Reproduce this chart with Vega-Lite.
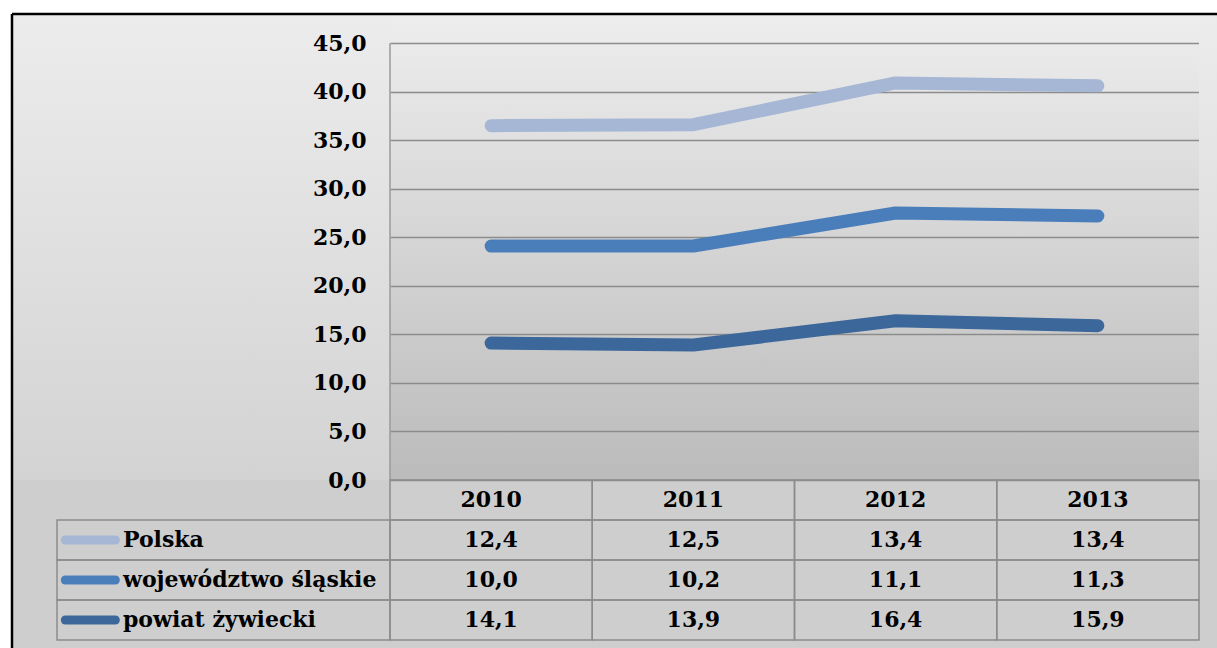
{
  "$schema": "https://vega.github.io/schema/vega-lite/v6.json",
  "padding": 0,
  "background": "#cecece",
  "columns": 4,
  "spacing": 0,
  "bounds": "flush",
  "config": {
    "view": {"stroke": null},
    "locale": {"number": {"decimal": ",", "thousands": " ", "grouping": [3], "currency": ["", ""]}},
    "text": {"font": "DejaVu Serif", "fontWeight": "bold", "fontSize": 22, "color": "#000"}
  },
  "datasets": {
    "main": [
      {"series": "Polska", "year": 2010, "value": 12.4, "rank": 3},
      {"series": "Polska", "year": 2011, "value": 12.5, "rank": 3},
      {"series": "Polska", "year": 2012, "value": 13.4, "rank": 3},
      {"series": "Polska", "year": 2013, "value": 13.4, "rank": 3},
      {"series": "województwo śląskie", "year": 2010, "value": 10.0, "rank": 2},
      {"series": "województwo śląskie", "year": 2011, "value": 10.2, "rank": 2},
      {"series": "województwo śląskie", "year": 2012, "value": 11.1, "rank": 2},
      {"series": "województwo śląskie", "year": 2013, "value": 11.3, "rank": 2},
      {"series": "powiat żywiecki", "year": 2010, "value": 14.1, "rank": 1},
      {"series": "powiat żywiecki", "year": 2011, "value": 13.9, "rank": 1},
      {"series": "powiat żywiecki", "year": 2012, "value": 16.4, "rank": 1},
      {"series": "powiat żywiecki", "year": 2013, "value": 15.9, "rank": 1}
    ],
    "series": [
      {"series": "Polska"},
      {"series": "województwo śląskie"},
      {"series": "powiat żywiecki"}
    ],
    "years": [
      {"year": 2010}, {"year": 2011}, {"year": 2012}, {"year": 2013}
    ],
    "one": [{}]
  },
  "concat": [
    {"width": 12, "height": 14, "view": {"fill": "white"}, "data": {"name": "one"},
     "mark": {"type": "rule", "strokeOpacity": 0},
     "encoding": {"y": {"datum": 1, "type": "quantitative", "scale": {"domain": [0, 1]}, "axis": null}}},
    {"width": 378, "height": 14, "view": {"fill": "white"}, "data": {"name": "one"},
     "mark": {"type": "rule", "strokeOpacity": 0},
     "encoding": {"y": {"datum": 1, "type": "quantitative", "scale": {"domain": [0, 1]}, "axis": null}}},
    {"width": 809, "height": 14, "view": {"fill": "white"}, "data": {"name": "one"},
     "mark": {"type": "rule", "strokeOpacity": 0},
     "encoding": {"y": {"datum": 1, "type": "quantitative", "scale": {"domain": [0, 1]}, "axis": null}}},
    {"width": 18, "height": 14, "view": {"fill": "white"}, "data": {"name": "one"},
     "mark": {"type": "rule", "strokeOpacity": 0},
     "encoding": {"y": {"datum": 1, "type": "quantitative", "scale": {"domain": [0, 1]}, "axis": null}}},

    {"width": 12, "height": 466, "view": {"fill": "white"}, "data": {"name": "one"},
     "mark": {"type": "rule", "strokeOpacity": 0},
     "encoding": {"y": {"datum": 1, "type": "quantitative", "scale": {"domain": [0, 1]}, "axis": null}}},
    {
      "width": 378, "height": 466,
      "view": {"fill": {"gradient": "linear", "x1": 0, "y1": 0, "x2": 0, "y2": 1, "stops": [{"offset": 0, "color": "#ececec"}, {"offset": 1, "color": "#d3d3d3"}]}},
      "data": {"name": "one"},
      "layer": [
        {"mark": {"type": "rule", "color": "#000", "strokeWidth": 2.5},
         "encoding": {"x": {"datum": 0, "type": "quantitative", "scale": {"domain": [0, 1]}, "axis": null}}},
        {"mark": {"type": "rule", "color": "#000", "strokeWidth": 2.5},
         "encoding": {"y": {"datum": 1, "type": "quantitative", "scale": {"domain": [0, 1]}, "axis": null}}}
      ]
    },
    {
      "width": 809, "height": 466,
      "view": {"fill": {"gradient": "linear", "x1": 0, "y1": 0, "x2": 0, "y2": 1, "stops": [{"offset": 0, "color": "#ededed"}, {"offset": 0.07, "color": "#eaeaea"}, {"offset": 1, "color": "#bbbbbb"}]}},
      "encoding": {
        "y": {"type": "quantitative",
              "scale": {"domain": [0, 48], "nice": false, "zero": true},
              "axis": {"values": [0, 5, 10, 15, 20, 25, 30, 35, 40, 45], "format": ".1f", "title": null,
                       "grid": true, "gridColor": "#8c8c8c", "gridWidth": 1.5, "domain": false, "ticks": false,
                       "labelFont": "DejaVu Serif", "labelFontWeight": "bold", "labelFontSize": 22, "labelColor": "#000",
                       "labelPadding": 24}}
      },
      "layer": [
        {"data": {"name": "one"},
         "mark": {"type": "rule", "color": "#9a9a9a", "strokeWidth": 1.5},
         "encoding": {
           "x": {"datum": 2009.5, "type": "quantitative", "scale": {"domain": [2009.5, 2013.5]}, "axis": null},
           "y": {"datum": 0},
           "y2": {"datum": 45}
         }},
        {"data": {"name": "one"},
         "mark": {"type": "rule", "color": "#000", "strokeWidth": 2.5},
         "encoding": {"y": {"datum": 48}}},
        {"data": {"name": "main"},
         "transform": [{"stack": "value", "groupby": ["year"], "sort": [{"field": "rank", "order": "ascending"}], "as": ["v0", "v1"]}],
         "mark": {"type": "line", "strokeWidth": 13, "strokeCap": "round", "strokeJoin": "round"},
         "encoding": {
           "x": {"field": "year", "type": "quantitative", "scale": {"domain": [2009.5, 2013.5]}, "axis": null},
           "y": {"field": "v1"},
           "color": {"field": "series", "type": "nominal",
                     "scale": {"domain": ["Polska", "województwo śląskie", "powiat żywiecki"], "range": ["#a6b7d5", "#4a7ebb", "#3c679b"]},
                     "legend": null}
         }}
      ]
    },
    {
      "width": 18, "height": 466,
      "view": {"fill": {"gradient": "linear", "x1": 0, "y1": 0, "x2": 0, "y2": 1, "stops": [{"offset": 0, "color": "#ececec"}, {"offset": 1, "color": "#d3d3d3"}]}},
      "data": {"name": "one"},
      "mark": {"type": "rule", "color": "#000", "strokeWidth": 2.5},
      "encoding": {"y": {"datum": 1, "type": "quantitative", "scale": {"domain": [0, 1]}, "axis": null}}
    },

    {"width": 12, "height": 168, "view": {"fill": "white"}, "data": {"name": "one"},
     "mark": {"type": "rule", "strokeOpacity": 0},
     "encoding": {"y": {"datum": 1, "type": "quantitative", "scale": {"domain": [0, 1]}, "axis": null}}},
    {
      "width": 378, "height": 168,
      "resolve": {"scale": {"x": "independent"}},
      "layer": [
        {"data": {"name": "series"},
         "layer": [
           {"mark": {"type": "rect", "fill": "transparent", "stroke": "#8c8c8c", "strokeWidth": 1.5},
            "encoding": {
              "x": {"datum": "lbl", "type": "nominal", "scale": {"type": "band", "domain": ["lbl"], "paddingInner": 0, "paddingOuter": 0.0676, "align": 1}, "axis": null},
              "y": {"field": "series", "type": "nominal", "scale": {"type": "band", "domain": ["hdr", "Polska", "województwo śląskie", "powiat żywiecki"], "paddingInner": 0, "paddingOuter": 0.1, "align": 0}, "axis": null}
            }},
           {"mark": {"type": "point", "shape": "M-1,0L1,0", "size": 2500, "filled": false, "strokeWidth": 9, "strokeCap": "round", "opacity": 1},
            "encoding": {
              "x": {"datum": "lbl", "type": "nominal", "bandPosition": 0.1, "axis": null},
              "y": {"field": "series", "type": "nominal", "axis": null},
              "color": {"field": "series", "type": "nominal",
                        "scale": {"domain": ["Polska", "województwo śląskie", "powiat żywiecki"], "range": ["#a6b7d5", "#4a7ebb", "#3c679b"]},
                        "legend": null}
            }},
           {"mark": {"type": "text", "align": "left", "baseline": "middle"},
            "encoding": {
              "x": {"datum": "lbl", "type": "nominal", "bandPosition": 0.198, "axis": null},
              "y": {"field": "series", "type": "nominal", "axis": null},
              "text": {"field": "series", "type": "nominal"}
            }}
         ]},
        {"data": {"name": "one"},
         "mark": {"type": "rule", "color": "#000", "strokeWidth": 2.5},
         "encoding": {"x": {"datum": 0, "type": "quantitative", "scale": {"domain": [0, 1]}, "axis": null}}}
      ]
    },
    {
      "width": 809, "height": 168,
      "encoding": {
        "x": {"field": "year", "type": "ordinal", "scale": {"type": "band", "domain": [2010, 2011, 2012, 2013], "paddingInner": 0, "paddingOuter": 0}, "axis": null}
      },
      "layer": [
        {"data": {"name": "years"},
         "mark": {"type": "rect", "fill": "transparent", "stroke": "#8c8c8c", "strokeWidth": 1.5},
         "encoding": {
           "y": {"datum": "hdr", "type": "nominal", "scale": {"type": "band", "domain": ["hdr", "Polska", "województwo śląskie", "powiat żywiecki"], "paddingInner": 0, "paddingOuter": 0.1, "align": 0}, "axis": null}
         }},
        {"data": {"name": "main"},
         "mark": {"type": "rect", "fill": "transparent", "stroke": "#8c8c8c", "strokeWidth": 1.5},
         "encoding": {"y": {"field": "series", "type": "nominal", "axis": null}}},
        {"data": {"name": "years"},
         "mark": {"type": "text", "baseline": "middle"},
         "encoding": {
           "y": {"datum": "hdr", "type": "nominal", "axis": null},
           "text": {"field": "year", "type": "ordinal"}
         }},
        {"data": {"name": "main"},
         "mark": {"type": "text", "baseline": "middle"},
         "encoding": {
           "y": {"field": "series", "type": "nominal", "axis": null},
           "text": {"field": "value", "type": "quantitative", "format": ".1f"}
         }}
      ]
    },
    {
      "width": 18, "height": 168,
      "data": {"name": "one"},
      "mark": {"type": "rule", "strokeOpacity": 0},
      "encoding": {"y": {"datum": 1, "type": "quantitative", "scale": {"domain": [0, 1]}, "axis": null}}
    }
  ]
}
